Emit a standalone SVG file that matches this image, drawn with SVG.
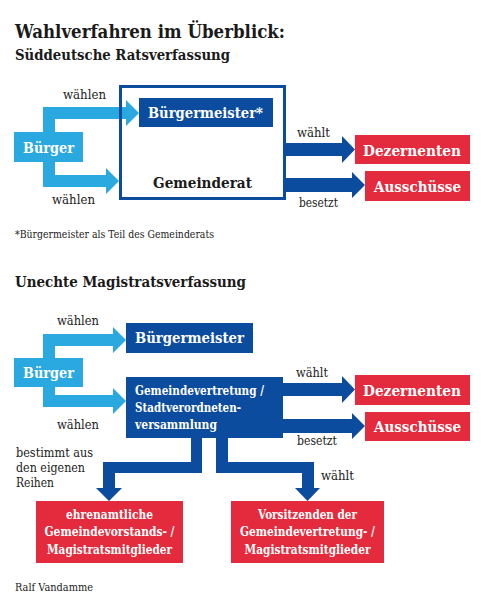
<svg xmlns="http://www.w3.org/2000/svg" width="490" height="613" viewBox="0 0 490 613">
<style>
text{font-family:"DejaVu Serif","Liberation Serif",serif;}
.t{font-weight:bold;fill:#1a1a1a;}
.lbl{font-size:12.5px;fill:#222;}
.w{font-weight:bold;fill:#fff;font-size:15px;}
.ws{font-weight:bold;fill:#fff;font-size:13px;}
.lb{fill:#2aa9e0;}
.db{fill:#0b4c9e;}
.rd{fill:#e32b3d;}
.sm{font-size:10.5px;fill:#222;}
</style>
<rect width="490" height="613" fill="#fff"/>
<g id="titles">
<text class="t" x="15" y="38" font-size="18" textLength="270" lengthAdjust="spacingAndGlyphs">Wahlverfahren im Überblick:</text>
<text class="t" x="15" y="60" font-size="15" textLength="215" lengthAdjust="spacingAndGlyphs">Süddeutsche Ratsverfassung</text>
<text class="t" x="15" y="287" font-size="15" textLength="231" lengthAdjust="spacingAndGlyphs">Unechte Magistratsverfassung</text>
<text class="sm" x="15" y="238" textLength="199" lengthAdjust="spacingAndGlyphs">*Bürgermeister als Teil des Gemeinderats</text>
<text class="sm" x="15" y="591" textLength="78" lengthAdjust="spacingAndGlyphs">Ralf Vandamme</text>
</g>
<g id="connectors">
<path class="lb" d="M43,107 H126 V100 L139,113 L126,126 V119 H55 V175 H106 V168 L119,181 L106,194 V187 H43 Z"/>
<path class="db" d="M285,143 H342 V136 L355,149.5 L342,163 V156 H285 Z"/>
<path class="db" d="M285,178 H352 V172 L365,185 L352,198 V192 H285 Z"/>
<path class="lb" d="M43,334 H113 V327 L126,340 L113,353 V346 H55 V395 H113 V388 L126,401 L113,414 V407 H43 Z"/>
<path class="db" d="M283,383 H342 V376 L355,389.5 L342,403 V396 H283 Z"/>
<path class="db" d="M283,419 H352 V413 L365,426 L352,439 V433 H283 Z"/>
<path class="db" d="M191,437 H202 V473 H115 V488 H122 L109,501 L96,488 H103 V462 H191 Z"/>
<path class="db" d="M216,437 H228 V462 H314 V488 H320 L307.5,501 L295,488 H302 V473 H216 Z"/>
<text class="lbl" x="63" y="99" textLength="43" lengthAdjust="spacingAndGlyphs">wählen</text>
<text class="lbl" x="52" y="204" textLength="43" lengthAdjust="spacingAndGlyphs">wählen</text>
<text class="lbl" x="297" y="137" textLength="33" lengthAdjust="spacingAndGlyphs">wählt</text>
<text class="lbl" x="299" y="207" textLength="39" lengthAdjust="spacingAndGlyphs">besetzt</text>
<text class="lbl" x="57" y="325" textLength="42" lengthAdjust="spacingAndGlyphs">wählen</text>
<text class="lbl" x="57" y="429" textLength="42" lengthAdjust="spacingAndGlyphs">wählen</text>
<text class="lbl" x="296" y="377" textLength="32" lengthAdjust="spacingAndGlyphs">wählt</text>
<text class="lbl" x="297" y="445" textLength="40" lengthAdjust="spacingAndGlyphs">besetzt</text>
<text class="lbl" x="16" y="457" textLength="77" lengthAdjust="spacingAndGlyphs">bestimmt aus</text>
<text class="lbl" x="16" y="472" textLength="69" lengthAdjust="spacingAndGlyphs">den eigenen</text>
<text class="lbl" x="16" y="487" textLength="38" lengthAdjust="spacingAndGlyphs">Reihen</text>
<text class="lbl" x="321" y="480" textLength="33" lengthAdjust="spacingAndGlyphs">wählt</text>
</g>
<g id="gemeinderat">
<rect x="120.5" y="86.5" width="164" height="112" fill="none" stroke="#0b4c9e" stroke-width="3"/>
<text class="t" x="153" y="188" font-size="15" textLength="99" lengthAdjust="spacingAndGlyphs">Gemeinderat</text>
</g>
<g id="buergermeister1">
<rect class="db" x="139" y="98" width="134" height="29"/>
<text class="w" x="148" y="118" textLength="115" lengthAdjust="spacingAndGlyphs">Bürgermeister*</text>
</g>
<g id="buerger1">
<rect class="lb" x="14" y="132" width="69" height="30"/>
<text class="w" x="23" y="153" textLength="51" lengthAdjust="spacingAndGlyphs">Bürger</text>
</g>
<g id="dezernenten1">
<rect class="rd" x="355" y="135" width="115" height="29"/>
<text class="w" x="363" y="156" textLength="98" lengthAdjust="spacingAndGlyphs">Dezernenten</text>
</g>
<g id="ausschuesse1">
<rect class="rd" x="365" y="171" width="105" height="30"/>
<text class="w" x="374" y="192" textLength="87" lengthAdjust="spacingAndGlyphs">Ausschüsse</text>
</g>
<g id="buerger2">
<rect class="lb" x="14" y="358" width="69" height="29"/>
<text class="w" x="23" y="378" textLength="51" lengthAdjust="spacingAndGlyphs">Bürger</text>
</g>
<g id="buergermeister2">
<rect class="db" x="126" y="323" width="127" height="30"/>
<text class="w" x="135" y="343" textLength="109" lengthAdjust="spacingAndGlyphs">Bürgermeister</text>
</g>
<g id="gemeindevertretung">
<rect class="db" x="126" y="377" width="157" height="61"/>
<text class="ws" x="135" y="395" textLength="129" lengthAdjust="spacingAndGlyphs">Gemeindevertretung /</text>
<text class="ws" x="135" y="412" textLength="106" lengthAdjust="spacingAndGlyphs">Stadtverordneten-</text>
<text class="ws" x="135" y="429" textLength="82" lengthAdjust="spacingAndGlyphs">versammlung</text>
</g>
<g id="dezernenten2">
<rect class="rd" x="355" y="375" width="115" height="30"/>
<text class="w" x="363" y="396" textLength="98" lengthAdjust="spacingAndGlyphs">Dezernenten</text>
</g>
<g id="ausschuesse2">
<rect class="rd" x="365" y="412" width="105" height="29"/>
<text class="w" x="374" y="432" textLength="87" lengthAdjust="spacingAndGlyphs">Ausschüsse</text>
</g>
<g id="ehrenamtliche">
<rect class="rd" x="36" y="501" width="147" height="62"/>
<text class="ws" x="109.5" y="519" text-anchor="middle" textLength="87" lengthAdjust="spacingAndGlyphs">ehrenamtliche</text>
<text class="ws" x="109.5" y="536" text-anchor="middle" textLength="130" lengthAdjust="spacingAndGlyphs">Gemeindevorstands- /</text>
<text class="ws" x="109.5" y="554" text-anchor="middle" textLength="125" lengthAdjust="spacingAndGlyphs">Magistratsmitglieder</text>
</g>
<g id="vorsitzenden">
<rect class="rd" x="231" y="501" width="153" height="62"/>
<text class="ws" x="307.5" y="519" text-anchor="middle" textLength="99" lengthAdjust="spacingAndGlyphs">Vorsitzenden der</text>
<text class="ws" x="307.5" y="536" text-anchor="middle" textLength="135" lengthAdjust="spacingAndGlyphs">Gemeindevertretung- /</text>
<text class="ws" x="307.5" y="554" text-anchor="middle" textLength="126" lengthAdjust="spacingAndGlyphs">Magistratsmitglieder</text>
</g>
</svg>
